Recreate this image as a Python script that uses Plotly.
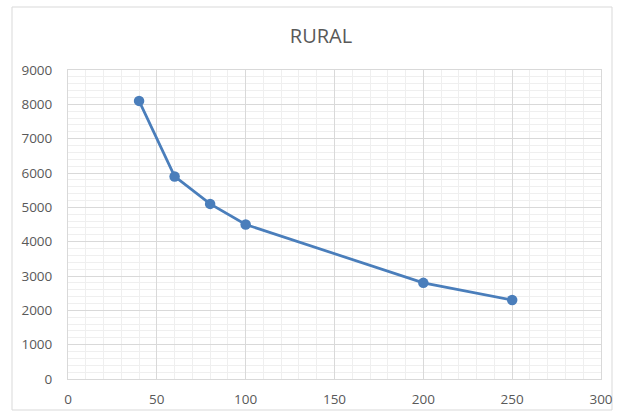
import plotly.graph_objects as go

x_vals = [40, 60, 80, 100, 200, 250]
y_vals = [8100, 5900, 5100, 4500, 2800, 2300]
title_text = "RURAL"

W, H = 617, 414
L, R, T, B = 68, 16, 70, 35
pw = W - L - R
ph = H - T - B

fig = go.Figure()
fig.add_trace(go.Scatter(
    x=x_vals, y=y_vals, mode="lines+markers",
    line=dict(color="#4a7ebb", width=2.75),
    marker=dict(color="#4a7ebb", size=10.5),
    showlegend=False, hoverinfo="skip",
))

fam = "Open Sans, Liberation Sans, sans-serif"
fig.update_layout(
    width=W, height=H,
    margin=dict(l=L, r=R, t=T, b=B, pad=0, autoexpand=False),
    paper_bgcolor="white", plot_bgcolor="white",
    font=dict(family=fam, color="#595959"),
    title=dict(text=title_text, x=321 / W, xanchor="center", y=1 - 36 / H, yanchor="middle",
               font=dict(size=20, color="#595959", family=fam)),
    xaxis=dict(range=[0, 300], dtick=50, tick0=0, showgrid=True, gridcolor="#d9d9d9", gridwidth=1,
               minor=dict(dtick=10, showgrid=True, gridcolor="#efefef", gridwidth=1),
               showline=True, linecolor="#d9d9d9", mirror=True, zeroline=False, automargin=False,
               ticks="", tickfont=dict(size=13.5, color="#595959"), ticklabelstandoff=8),
    yaxis=dict(range=[0, 9000], dtick=1000, tick0=0, showgrid=True, gridcolor="#d9d9d9", gridwidth=1,
               minor=dict(dtick=200, showgrid=True, gridcolor="#efefef", gridwidth=1),
               showline=True, linecolor="#d9d9d9", mirror=True, zeroline=False, automargin=False,
               ticks="", tickfont=dict(size=13.5, color="#595959"), ticklabelstandoff=12),
)

fig.add_shape(type="rect", xref="paper", yref="paper",
              x0=(12 - L) / pw, x1=(612 - L) / pw,
              y0=-(410 - T - ph) / ph, y1=1 + (T - 7) / ph,
              line=dict(color="#d9d9d9", width=1), layer="below")

fig.write_html("out.html", config={"displayModeBar": False},
               post_script="document.body.style.margin='0px';document.body.style.overflow='hidden';")
